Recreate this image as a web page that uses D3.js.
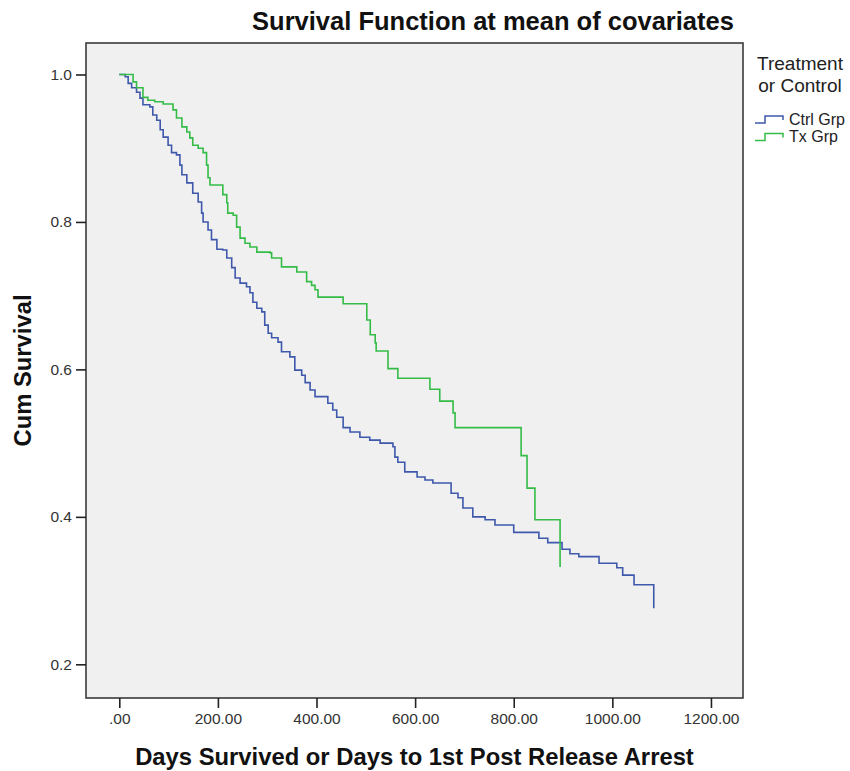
<!DOCTYPE html>
<html>
<head>
<meta charset="utf-8">
<script src="https://cdn.jsdelivr.net/npm/d3@7/dist/d3.min.js"></script>
<style>
  html, body { margin: 0; padding: 0; background: #ffffff; }
  svg { display: block; }
  text { font-family: "Liberation Sans", Arial, sans-serif; }
</style>
</head>
<body>
<svg id="chart" width="850" height="771"></svg>
<script>
// ---------------- DATA ----------------
const title = "Survival Function at mean of covariates";
const xLabel = "Days Survived or Days to 1st Post Release Arrest";
const yLabel = "Cum Survival";
const legendTitle = ["Treatment", "or Control"];
const groups = ["Ctrl Grp", "Tx Grp"];
const groupColors = ["#3E58AC", "#34BC47"];

const ctrlDays = [0, 12, 18, 25, 35, 42, 48, 62, 68, 76, 83, 89, 99, 106, 116, 123, 127, 137, 149, 160, 167, 170, 180, 187, 198, 210, 218, 228, 235, 245, 258, 265, 271, 279, 289, 295, 302, 309, 322, 329, 346, 356, 370, 377, 387, 397, 423, 433, 441, 454, 468, 488, 508, 529, 555, 559, 565, 579, 604, 620, 636, 673, 687, 697, 717, 742, 762, 800, 851, 869, 898, 914, 932, 973, 1009, 1021, 1044, 1084];
const ctrlSurv = [1.000, 0.997, 0.988, 0.982, 0.976, 0.968, 0.959, 0.956, 0.945, 0.938, 0.925, 0.915, 0.904, 0.894, 0.891, 0.877, 0.864, 0.853, 0.839, 0.827, 0.812, 0.800, 0.789, 0.776, 0.763, 0.762, 0.751, 0.738, 0.724, 0.717, 0.712, 0.704, 0.691, 0.683, 0.678, 0.660, 0.649, 0.643, 0.637, 0.624, 0.617, 0.599, 0.592, 0.582, 0.572, 0.563, 0.554, 0.545, 0.535, 0.521, 0.515, 0.508, 0.504, 0.500, 0.495, 0.481, 0.474, 0.461, 0.454, 0.450, 0.446, 0.432, 0.426, 0.412, 0.400, 0.396, 0.389, 0.379, 0.371, 0.365, 0.356, 0.350, 0.346, 0.337, 0.331, 0.321, 0.308, 0.276];

const txDays = [0, 28, 35, 48, 58, 72, 89, 109, 116, 127, 137, 143, 149, 160, 170, 177, 180, 184, 210, 218, 220, 231, 238, 245, 255, 265, 279, 306, 309, 329, 360, 380, 390, 397, 403, 454, 502, 509, 519, 521, 545, 565, 630, 650, 677, 681, 815, 827, 843, 894];
const txSurv = [1.000, 0.990, 0.982, 0.969, 0.965, 0.963, 0.960, 0.952, 0.941, 0.929, 0.922, 0.914, 0.904, 0.900, 0.894, 0.877, 0.860, 0.850, 0.837, 0.826, 0.812, 0.809, 0.793, 0.778, 0.771, 0.766, 0.759, 0.758, 0.751, 0.739, 0.732, 0.719, 0.714, 0.708, 0.698, 0.689, 0.667, 0.647, 0.636, 0.625, 0.601, 0.588, 0.573, 0.557, 0.541, 0.521, 0.483, 0.439, 0.396, 0.332];

const xTicks = [0, 200, 400, 600, 800, 1000, 1200];
const xTickLabels = [".00", "200.00", "400.00", "600.00", "800.00", "1000.00", "1200.00"];
const yTicks = [0.2, 0.4, 0.6, 0.8, 1.0];
const yTickLabels = ["0.2", "0.4", "0.6", "0.8", "1.0"];
const xDomain = [-67.5, 1265];
const yDomain = [0.1543, 1.0427];

// ---------------- LAYOUT ----------------
const plot = { left: 86, top: 43, right: 743, bottom: 698 };
const svg = d3.select("#chart");

const x = d3.scaleLinear().domain(xDomain).range([plot.left, plot.right]);
const y = d3.scaleLinear().domain(yDomain).range([plot.bottom, plot.top]);

// plot background
svg.append("rect")
  .attr("x", plot.left).attr("y", plot.top)
  .attr("width", plot.right - plot.left).attr("height", plot.bottom - plot.top)
  .attr("fill", "#F0F0F0");

// curves
const series = [
  { days: ctrlDays, surv: ctrlSurv },
  { days: txDays, surv: txSurv }
];
const line = d3.line()
  .x(d => x(d[0]))
  .y(d => y(d[1]))
  .curve(d3.curveStepAfter);

series.forEach((s, i) => {
  const pts = s.days.map((d, j) => [d, s.surv[j]]);
  svg.append("path")
    .datum(pts)
    .attr("d", line)
    .attr("fill", "none")
    .attr("stroke", groupColors[i])
    .attr("stroke-width", 1.6);
});

// frame
svg.append("rect")
  .attr("x", plot.left).attr("y", plot.top)
  .attr("width", plot.right - plot.left).attr("height", plot.bottom - plot.top)
  .attr("fill", "none")
  .attr("stroke", "#3a3a3a")
  .attr("stroke-width", 1.6);

// axes
const xAxis = d3.axisBottom(x)
  .tickValues(xTicks)
  .tickFormat((d, i) => xTickLabels[i])
  .tickSize(10)
  .tickPadding(5);
const gx = svg.append("g")
  .attr("transform", `translate(0,${plot.bottom})`)
  .call(xAxis);
gx.select(".domain").remove();
gx.selectAll(".tick line").attr("stroke", "#222").attr("stroke-width", 1.6);
gx.selectAll(".tick text")
  .attr("fill", "#333")
  .style("font-size", "15.5px")
  .style("font-family", "'Liberation Sans', Arial, sans-serif");

const yAxis = d3.axisLeft(y)
  .tickValues(yTicks)
  .tickFormat((d, i) => yTickLabels[i])
  .tickSize(10)
  .tickPadding(4);
const gy = svg.append("g")
  .attr("transform", `translate(${plot.left},0)`)
  .call(yAxis);
gy.select(".domain").remove();
gy.selectAll(".tick line").attr("stroke", "#222").attr("stroke-width", 1.6);
gy.selectAll(".tick text")
  .attr("fill", "#333")
  .style("font-size", "15.5px")
  .style("font-family", "'Liberation Sans', Arial, sans-serif");

// title
svg.append("text")
  .attr("x", 493).attr("y", 30)
  .attr("text-anchor", "middle")
  .style("font-size", "25.5px")
  .style("font-weight", "bold")
  .attr("fill", "#111")
  .text(title);

// x label
svg.append("text")
  .attr("x", (plot.left + plot.right) / 2).attr("y", 765)
  .attr("text-anchor", "middle")
  .style("font-size", "23.8px")
  .style("font-weight", "bold")
  .attr("fill", "#111")
  .text(xLabel);

// y label
svg.append("text")
  .attr("transform", `translate(31,${(plot.top + plot.bottom) / 2}) rotate(-90)`)
  .attr("text-anchor", "middle")
  .style("font-size", "23.8px")
  .style("font-weight", "bold")
  .attr("fill", "#111")
  .text(yLabel);

// legend
const lg = svg.append("g");
legendTitle.forEach((t, i) => {
  lg.append("text")
    .attr("x", 800).attr("y", 70 + i * 21.5)
    .attr("text-anchor", "middle")
    .style("font-size", "19px")
    .attr("fill", "#222")
    .text(t);
});
const symbol = d3.line().curve(d3.curveStepAfter);
groups.forEach((g, i) => {
  const oy = 123 + i * 17.5;
  const ox = 755;
  lg.append("path")
    .attr("d", symbol([[ox, oy], [ox + 10, oy - 7], [ox + 28, oy - 3]]))
    .attr("fill", "none")
    .attr("stroke", groupColors[i])
    .attr("stroke-width", 1.5);
  lg.append("text")
    .attr("x", 789).attr("y", oy + 1.5)
    .style("font-size", "16px")
    .attr("fill", "#222")
    .text(g);
});
</script>
</body>
</html>
